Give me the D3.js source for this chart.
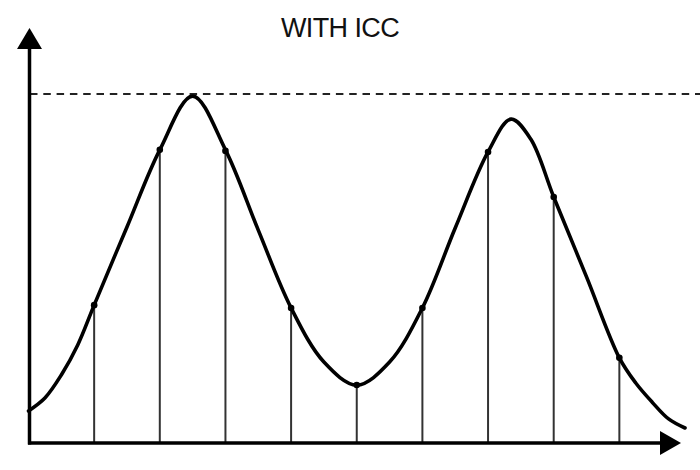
<!DOCTYPE html>
<html><head><meta charset="utf-8">
<script src="https://cdn.jsdelivr.net/npm/d3@7"></script>
<style>html,body{margin:0;padding:0;background:#fff;}svg{display:block;}</style>
</head><body>
<svg id="c" width="700" height="470"></svg>
<script>
const title = "WITH ICC";
// continuous signal (x in sample steps, y relative to the dashed level = 1)
const curveX = [0, 0.25, 0.5, 0.75, 1, 1.5, 2, 2.5, 3, 3.5, 4, 4.5, 5, 5.5, 6, 6.5, 7, 7.35, 7.65, 8, 8.5, 9, 9.25, 9.5, 9.75, 10];
const curveY = [0.092, 0.129, 0.195, 0.281, 0.395, 0.619, 0.840, 0.994, 0.840, 0.610, 0.387, 0.232, 0.166, 0.232, 0.387, 0.616, 0.834, 0.928, 0.871, 0.705, 0.476, 0.244, 0.172, 0.117, 0.069, 0.043];
// sampled values
const sampleX = [1, 2, 3, 4, 5, 6, 7, 8, 9];
const sampleY = [0.395, 0.840, 0.837, 0.387, 0.166, 0.387, 0.834, 0.705, 0.244];
const thresholdLevel = 1;

const svg = d3.select("#c");
const x = d3.scaleLinear().domain([0, 10]).range([28.5, 685]);
const y = d3.scaleLinear().domain([0, 1]).range([443, 94]);

// title
svg.append("text").attr("x", 340).attr("y", 37).attr("text-anchor", "middle")
  .attr("font-family", "Liberation Sans, Arial, sans-serif").attr("font-size", 27)
  .attr("letter-spacing", -0.6).attr("fill", "#111").text(title);

// dashed threshold
svg.append("line").attr("x1", 30).attr("x2", 700).attr("y1", y(thresholdLevel)).attr("y2", y(thresholdLevel))
  .attr("stroke", "#222").attr("stroke-width", 2).attr("stroke-dasharray", "7.5,5.8");

// stems
svg.selectAll("line.stem").data(sampleX).join("line").attr("class", "stem")
  .attr("x1", d => x(d)).attr("x2", d => x(d))
  .attr("y1", y(0)).attr("y2", (d, i) => y(sampleY[i]))
  .attr("stroke", "#333").attr("stroke-width", 2);

// curve
const pts = curveX.map((d, i) => [d, curveY[i]]);
svg.append("path").datum(pts)
  .attr("d", d3.line().x(d => x(d[0])).y(d => y(d[1])).curve(d3.curveCatmullRom.alpha(0.5)))
  .attr("fill", "none").attr("stroke", "#000").attr("stroke-width", 3.6).attr("stroke-linecap", "round");

// dots
svg.selectAll("circle.dot").data(sampleX).join("circle").attr("class", "dot")
  .attr("cx", d => x(d)).attr("cy", (d, i) => y(sampleY[i])).attr("r", 3.3).attr("fill", "#000");

// axes
const ax0 = 29.5;
svg.append("line").attr("x1", ax0).attr("x2", ax0).attr("y1", y(0) + 1.5).attr("y2", 45)
  .attr("stroke", "#000").attr("stroke-width", 3.5);
svg.append("line").attr("x1", ax0 - 1.5).attr("x2", 664).attr("y1", y(0)).attr("y2", y(0))
  .attr("stroke", "#000").attr("stroke-width", 3.5);
svg.append("path").attr("d", `M${ax0},28 L${ax0 + 12.5},49 L${ax0 - 12.5},49 Z`).attr("fill", "#000");
svg.append("path").attr("d", `M681,${y(0)} L660,${y(0) - 12} L660,${y(0) + 12} Z`).attr("fill", "#000");
</script>
</body></html>
